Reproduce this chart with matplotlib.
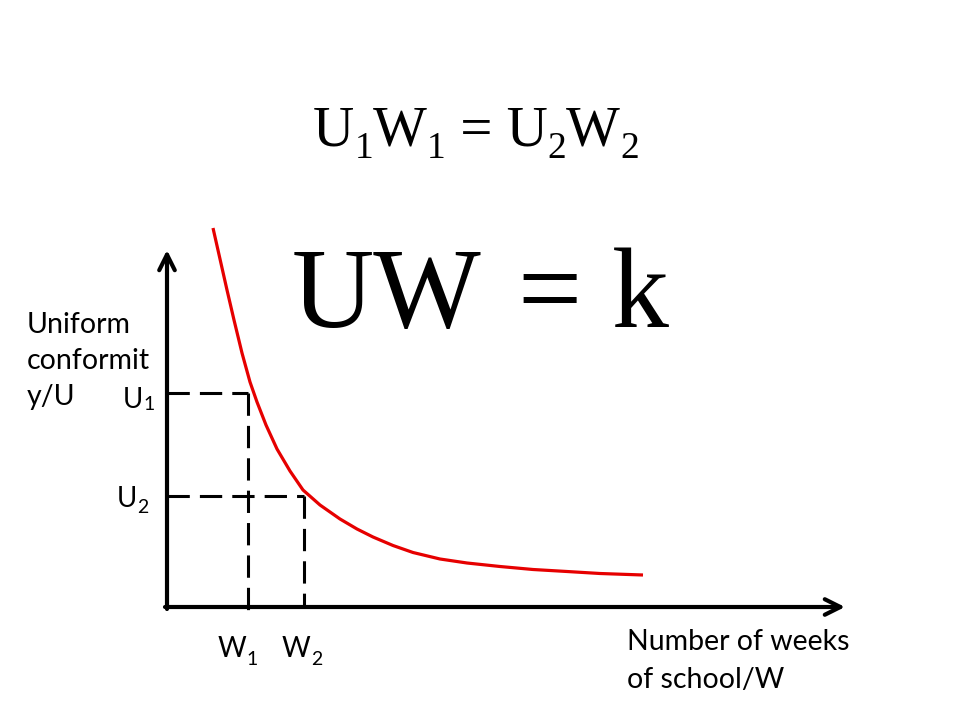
#!/usr/bin/env python3
import matplotlib
matplotlib.use('Agg')
import matplotlib.pyplot as plt

# curve (W, U) in axis units (1 unit = 1 px)
curve_w = [46, 53, 60, 67, 75, 83, 90, 99, 110, 123, 136, 153, 173, 190,
           206, 226, 246, 273, 300, 333, 366, 400, 433, 476]
curve_u = [379, 348, 317, 287, 254, 225, 205, 182, 158, 136, 117, 102, 88,
           78, 70, 61.5, 54.5, 48, 44, 40.5, 37.5, 35.5, 33.5, 32]

# the two marked points
w_pts = [81, 137]
u_pts = [214, 111]
subs = ['1', '2']

y_title = ['Uniform', 'conformit', 'y/U']
x_title = ['Number of weeks', 'of school/W']

x_end = 678
y_end = 357

SANS = 'Lato'
SERIF = 'Liberation Serif'


def run(ax, renderer, x, y, pieces, family):
    # draw pieces left to right: (text, size, baseline drop)
    for s, size, drop in pieces:
        t = ax.text(x, y - drop, s, fontsize=size, family=family,
                    ha='left', va='baseline')
        x += t.get_window_extent(renderer).width


def main():
    fig = plt.figure(figsize=(9.6, 7.2), dpi=100)
    ax = fig.add_axes([0, 0, 1, 1])
    ax.set_xlim(-167, 960 - 167)
    ax.set_ylim(607 - 720, 607)
    ax.axis('off')
    renderer = fig.canvas.get_renderer()

    # axes with open arrow heads
    ax.annotate('', xy=(0, y_end), xytext=(0, -2),
                arrowprops=dict(arrowstyle='->', lw=3.0, color='black',
                                mutation_scale=28, shrinkA=0, shrinkB=0))
    ax.annotate('', xy=(x_end, 0), xytext=(-2, 0),
                arrowprops=dict(arrowstyle='->', lw=3.0, color='black',
                                mutation_scale=28, shrinkA=0, shrinkB=0))

    ax.plot(curve_w, curve_u, color='#e60000', lw=2.3,
            solid_joinstyle='round', solid_capstyle='butt')

    dash = (0, (7.3, 3.3))
    ax.plot([0, w_pts[0]], [u_pts[0], u_pts[0]], color='black', lw=2.2, ls=dash)
    ax.plot([w_pts[0], w_pts[0]], [u_pts[0], -6], color='black', lw=2.2, ls=dash)
    ax.plot([0, w_pts[1]], [u_pts[1], u_pts[1]], color='black', lw=2.2, ls=dash)
    ax.plot([w_pts[1], w_pts[1]], [u_pts[1], 0], color='black', lw=2.2, ls=dash)

    # point labels
    run(ax, renderer, -44, 607 - 408, [('U', 20, 0), (subs[0], 14, 2)], SANS)
    run(ax, renderer, -50, 607 - 507, [('U', 20, 0), (subs[1], 14, 6)], SANS)
    run(ax, renderer, 51, -50, [('W', 20, 0), (subs[0], 14, 8)], SANS)
    run(ax, renderer, 115, -50, [('W', 20, 0), (subs[1], 14, 8)], SANS)

    # axis titles, one text per line
    for i, line in enumerate(y_title):
        ax.text(-140, 607 - 333 - 36 * i, line, fontsize=20.5, family=SANS,
                ha='left', va='baseline')
    for i, line in enumerate(x_title):
        ax.text(460, 607 - 650 - 38 * i, line, fontsize=20.5, family=SANS,
                ha='left', va='baseline')

    # equations
    run(ax, renderer, 313 - 167, 607 - 145,
        [('U', 41, 0), ('1', 27, 13), ('W', 41, 0), ('1', 27, 13),
         (' = U', 41, 0), ('2', 27, 13), ('W', 41, 0), ('2', 27, 13)], SERIF)
    base = 607 - 327
    ax.text(292 - 167, base, 'UW', fontsize=82, family=SERIF,
            ha='left', va='baseline')
    ax.text(517 - 167, base, '=', fontsize=82, family=SERIF,
            ha='left', va='baseline')
    ax.text(612 - 167, base, 'k', fontsize=82, family=SERIF,
            ha='left', va='baseline')

    fig.savefig('out.png', dpi=100)


if __name__ == "__main__":
    main()
